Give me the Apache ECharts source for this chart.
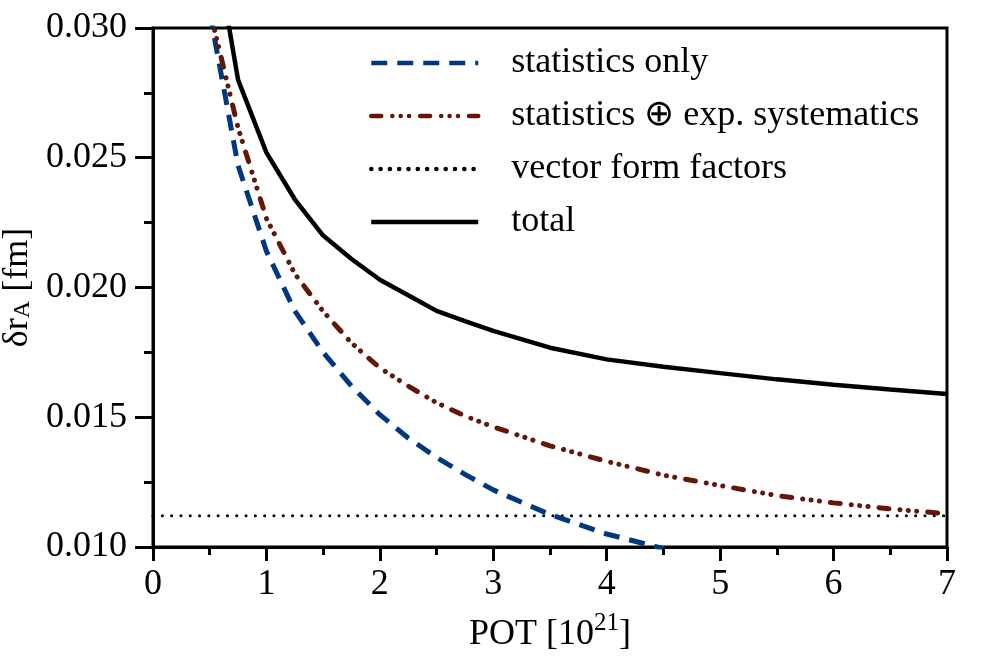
<!DOCTYPE html>
<html>
<head>
<meta charset="utf-8">
<script src="https://cdn.jsdelivr.net/npm/echarts@6/dist/echarts.min.js"></script>
<style>
  html, body { margin: 0; padding: 0; background: #fff; }
  #chart { width: 996px; height: 664px; }
</style>
</head>
<body>
<div id="chart"></div>
<script>
// POT in units of 10^21
var potValues = [0.5, 0.75, 1, 1.25, 1.5, 1.75, 2, 2.25, 2.5, 2.75, 3, 3.5, 4, 4.5, 5, 5.5, 6, 6.5, 7];
// statistics only (runs off the bottom near 4.4)
var statOnly = [0.0306, 0.0247, 0.0214, 0.0191, 0.0175, 0.0162, 0.0151, 0.0142, 0.01345, 0.0128, 0.0122, 0.01125, 0.0105, 0.00994];
// statistics + exp. systematics
var statSyst = [0.0307, 0.02615, 0.02266, 0.02053, 0.01908, 0.01786, 0.0169, 0.0162, 0.01556, 0.01505, 0.01463, 0.0139, 0.0133, 0.01277, 0.01237, 0.01198, 0.0117, 0.01147, 0.01128];
// vector form factors (flat)
var vectorX = [0, 7];
var vectorFF = [0.0112, 0.0112];
// total
var total = [0.0344, 0.0280, 0.0252, 0.0234, 0.0220, 0.0211, 0.0203, 0.0197, 0.0191, 0.0187, 0.01833, 0.01768, 0.01723, 0.01695, 0.0167, 0.01646, 0.01625, 0.01607, 0.0159];

var yTicks = [0.010, 0.015, 0.020, 0.025, 0.030];

function pairs(xs, ys) {
  return ys.map(function (y, i) { return [xs[i], y]; });
}

var serif = "Liberation Serif";
var chart = echarts.init(document.getElementById("chart"));

var option = {
  animation: false,
  backgroundColor: "#fff",
  textStyle: { fontFamily: serif, color: "#000" },
  grid: {
    left: 153, right: 49, top: 28, bottom: 117,
    outerBoundsMode: "none",
    containLabel: false,
    show: true, borderColor: "#000", borderWidth: 3, backgroundColor: "transparent"
  },
  legend: {
    orient: "vertical",
    left: 369,
    top: 45,
    padding: 0,
    itemWidth: 107,
    itemHeight: 16,
    itemGap: 17,
    itemStyle: { opacity: 0 },
    lineStyle: { width: 4.5 },
    textStyle: { fontFamily: serif, fontSize: 36, color: "#000", padding: [0, 0, 0, 28] },
    data: ["statistics only", "statistics \u2295 exp. systematics", "vector form factors", "total"]
  },
  xAxis: {
    type: "value",
    min: 0, max: 7, interval: 1,
    name: "POT [10{sup|21}]",
    nameLocation: "middle",
    nameGap: 64,
    nameTextStyle: {
      fontFamily: serif, fontSize: 36, color: "#000",
      rich: { sup: { fontFamily: serif, fontSize: 25, verticalAlign: "top", padding: [0, 0, 22, 0], color: "#000" } }
    },
    axisLine: { show: true, onZero: false, lineStyle: { color: "#000", width: 3 } },
    axisTick: { show: true, length: 14, lineStyle: { color: "#000", width: 3 } },
    minorTick: { show: true, splitNumber: 2, length: 8, lineStyle: { color: "#000", width: 3 } },
    splitLine: { show: false },
    axisLabel: { fontFamily: serif, fontSize: 36, color: "#000", margin: 20 }
  },
  yAxis: {
    type: "value",
    min: yTicks[0], max: yTicks[yTicks.length - 1], interval: 0.005,
    name: "\u03b4r{sub|A} [fm]",
    nameLocation: "middle",
    nameRotate: 90,
    nameGap: 113,
    nameTextStyle: {
      fontFamily: serif, fontSize: 36, color: "#000",
      rich: { sub: { fontFamily: serif, fontSize: 24, verticalAlign: "bottom", padding: [10, 0, 0, 0], color: "#000" } }
    },
    axisLine: { show: true, onZero: false, lineStyle: { color: "#000", width: 3 } },
    axisTick: { show: true, length: 18, lineStyle: { color: "#000", width: 3 } },
    minorTick: { show: true, splitNumber: 2, length: 9, lineStyle: { color: "#000", width: 3 } },
    splitLine: { show: false },
    axisLabel: {
      fontFamily: serif, fontSize: 36, color: "#000", margin: 26,
      formatter: function (v) { return v.toFixed(3); }
    }
  },
  series: [
    {
      name: "statistics only",
      type: "line",
      symbol: "none",
      data: pairs(potValues, statOnly),
      lineStyle: { color: "#00387f", width: 5, type: [16, 10] },
      itemStyle: { color: "#00387f" },
      z: 3
    },
    {
      name: "statistics \u2295 exp. systematics",
      type: "line",
      symbol: "none",
      data: pairs(potValues, statSyst),
      lineStyle: { color: "#641608", width: 5, cap: "round", type: [10, 11, 0.1, 8.3, 0.1, 8.3, 0.1, 11] },
      itemStyle: { color: "#641608" },
      z: 3
    },
    {
      name: "vector form factors",
      type: "line",
      symbol: "none",
      data: pairs(vectorX, vectorFF),
      lineStyle: { color: "#000", width: 3, cap: "round", type: [0.1, 9.2] },
      itemStyle: { color: "#000" },
      z: 2
    },
    {
      name: "total",
      type: "line",
      symbol: "none",
      data: pairs(potValues, total),
      lineStyle: { color: "#000", width: 4.5 },
      itemStyle: { color: "#000" },
      z: 4
    }
  ]
};

chart.setOption(option);
</script>
</body>
</html>
